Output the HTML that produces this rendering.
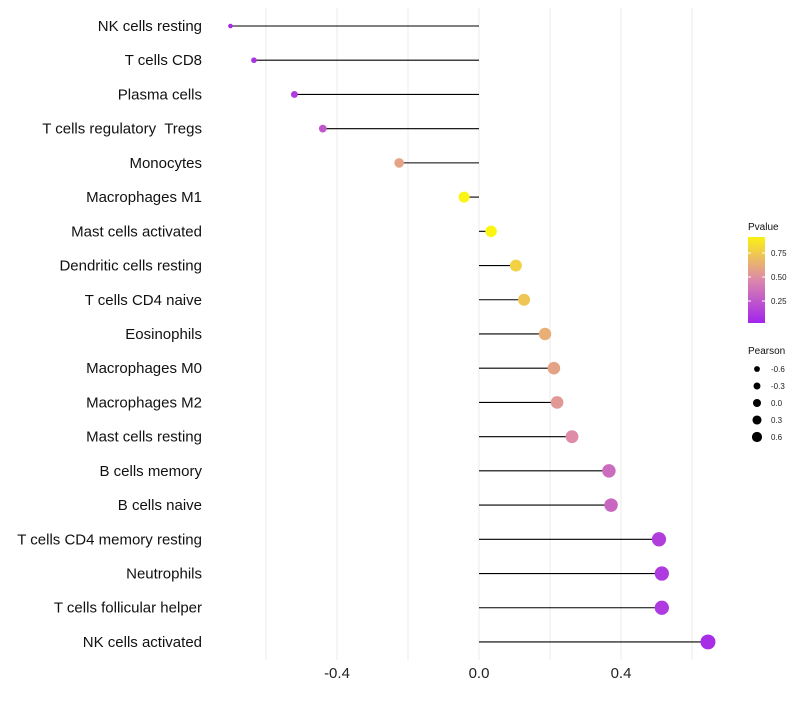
<!DOCTYPE html>
<html><head><meta charset="utf-8"><style>
body{margin:0;background:#fff;font-family:"Liberation Sans",sans-serif}
svg text{font-family:"Liberation Sans",sans-serif;white-space:pre}
</style></head><body>
<svg id="c" width="800" height="700"></svg>
<script>
const categories=["NK cells resting","T cells CD8","Plasma cells","T cells regulatory  Tregs","Monocytes","Macrophages M1","Mast cells activated","Dendritic cells resting","T cells CD4 naive","Eosinophils","Macrophages M0","Macrophages M2","Mast cells resting","B cells memory","B cells naive","T cells CD4 memory resting","Neutrophils","T cells follicular helper","NK cells activated"];
const pearson=[-0.70,-0.634,-0.52,-0.44,-0.225,-0.042,0.034,0.104,0.127,0.186,0.211,0.22,0.262,0.366,0.372,0.507,0.515,0.515,0.645];
const pvalue=[0.05,0.08,0.12,0.25,0.6,0.95,0.95,0.8,0.75,0.65,0.6,0.55,0.5,0.35,0.33,0.14,0.12,0.12,0.06];
const xTicks=[-0.4,0,0.4];
const xMinor=[-0.6,-0.2,0.2,0.6];
const legendP=[0.25,0.5,0.75];
const legendR=[-0.6,-0.3,0.0,0.3,0.6];
const NS="http://www.w3.org/2000/svg",svg=document.getElementById('c');
const X=v=>479+v*355, Y=i=>26+i*34.22;
const R=p=>Math.sqrt(Math.max(2.25,7.8+37.6*(p+0.634)));
const LR=p=>4+p*1.8;
function col(p){const s=[[0,[160,32,240]],[0.5,[222,140,168]],[1,[255,255,0]]];
 let a=s[0],b=s[1];if(p>0.5){a=s[1];b=s[2];}const t=Math.max(0,Math.min(1,(p-a[0])/(b[0]-a[0])));
 return 'rgb('+a[1].map((c,k)=>Math.round(c+(b[1][k]-c)*t)).join(',')+')';}
function el(t,at,txt){const e=document.createElementNS(NS,t);for(const k in at)e.setAttribute(k,at[k]);if(txt!==undefined)e.textContent=txt;svg.appendChild(e);return e;}
xMinor.concat(xTicks).forEach(v=>{const g=el('line',{x1:X(v),x2:X(v),y1:8,y2:660,stroke:'#ebebeb','stroke-width':1});
});
xTicks.forEach(v=>{const t=el('text',{x:X(v),y:678,'text-anchor':'middle','font-size':15,fill:'#222'},v.toFixed(1));
});
categories.forEach((c,i)=>{const t=el('text',{x:202,y:Y(i)+5,'text-anchor':'end','font-size':15,fill:'#111'},c);

const l=el('line',{x1:X(0),x2:X(pearson[i]),y1:Y(i),y2:Y(i),stroke:'#000','stroke-width':1.1});

const d=el('circle',{cx:X(pearson[i]),cy:Y(i),r:R(pearson[i]),fill:col(pvalue[i])});
});
const lt=el('text',{x:748,y:230,'font-size':10,fill:'#111'},'Pvalue');
const defs=el('defs',{});const g=document.createElementNS(NS,'linearGradient');g.setAttribute('id','gr');g.setAttribute('x1','0');g.setAttribute('y1','1');g.setAttribute('x2','0');g.setAttribute('y2','0');defs.appendChild(g);
[0,0.25,0.5,0.75,1].forEach(o=>{const s=document.createElementNS(NS,'stop');s.setAttribute('offset',o);s.setAttribute('stop-color',col(0.02+o*0.92));g.appendChild(s);});
const bar=el('rect',{x:748,y:237,width:17,height:86,fill:'url(#gr)'});
legendP.forEach(p=>{const y=325-p*96;el('line',{x1:748,x2:751,y1:y,y2:y,stroke:'#fff'});el('line',{x1:762,x2:765,y1:y,y2:y,stroke:'#fff'});
const t=el('text',{x:771,y:y+3,'font-size':8,fill:'#222'},p.toFixed(2));});
const pt=el('text',{x:748,y:354,'font-size':10,fill:'#111'},'Pearson');
legendR.forEach((v,k)=>{const y=369+k*17;const c=el('circle',{cx:757,cy:y,r:LR(v),fill:'#000'});
const t=el('text',{x:771,y:y+3,'font-size':8,fill:'#222'},v.toFixed(1));});
</script></body></html>
